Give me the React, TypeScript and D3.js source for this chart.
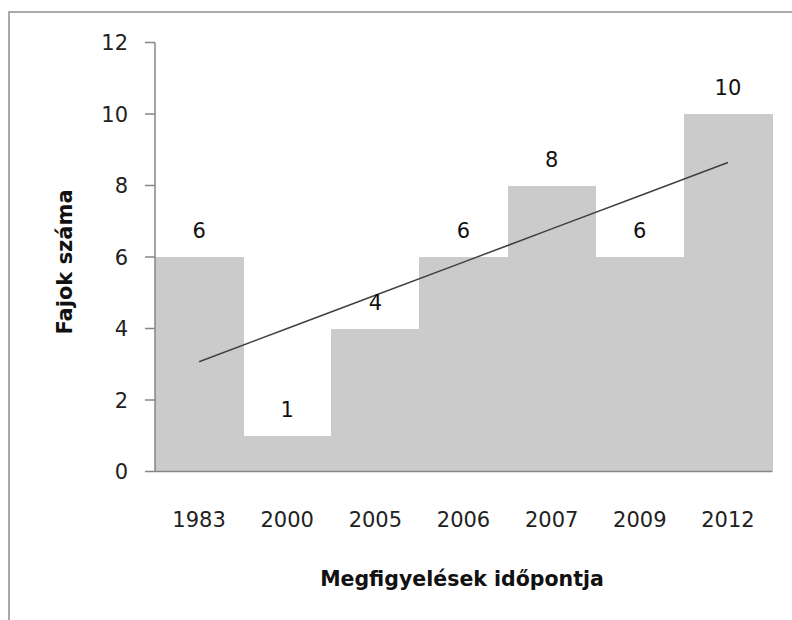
import React from "react";
import * as d3 from "d3";

const categories = ["1983", "2000", "2005", "2006", "2007", "2009", "2012"];
const values = [6, 1, 4, 6, 8, 6, 10];
const yTicks = [0, 2, 4, 6, 8, 10, 12];
const xTitle = "Megfigyelések időpontja";
const yTitle = "Fajok száma";

export default function App() {
  const W = 792, H = 620;
  const left = 155, right = 772, top = 42.5, bottom = 471.5;
  const x = d3.scaleBand<string>().domain(categories).range([left, right]).padding(0);
  const y = d3.scaleLinear().domain([0, 12]).range([bottom, top]);

  // linear trendline (least squares) over category index
  const n = values.length;
  const xs = values.map((_, i) => i + 1);
  const mx = d3.mean(xs)!;
  const my = d3.mean(values)!;
  const slope = d3.sum(xs.map((xi, i) => (xi - mx) * (values[i] - my))) / d3.sum(xs.map((xi) => (xi - mx) ** 2));
  const intercept = my - slope * mx;
  const cx = (i: number) => x(categories[i])! + x.bandwidth() / 2;
  const trend = d3.line<number>().x((i) => cx(i)).y((i) => y(intercept + slope * (i + 1)));

  const font = "'DejaVu Sans', sans-serif";
  return (
    <svg width={W} height={H} style={{ position: "absolute", left: 0, top: 0, background: "#fff" }}>
      <rect x={9} y={12} width={W + 20} height={H + 20} fill="#fff" stroke="#a0a0a0" strokeWidth={1.8} />
      {categories.map((c, i) => (
        <rect key={c} x={x(c)!} y={y(values[i])} width={x.bandwidth() + 0.6} height={bottom - y(values[i])} fill="#cbcbcb" shapeRendering="crispEdges" />
      ))}
      {/* y axis */}
      <line x1={left} x2={left} y1={top} y2={bottom} stroke="#868686" strokeWidth={1.5} />
      {yTicks.map((t) => (
        <g key={t}>
          <line x1={left - 10} x2={left} y1={y(t)} y2={y(t)} stroke="#868686" strokeWidth={1.5} />
          <text x={128} y={y(t)} dy="0.36em" textAnchor="end" fontFamily={font} fontSize={21} fill="#222">{t}</text>
        </g>
      ))}
      {/* x axis */}
      <line x1={left} x2={right} y1={bottom} y2={bottom} stroke="#868686" strokeWidth={1.5} />
      {categories.map((c) => (
        <text key={c} x={x(c)! + x.bandwidth() / 2} y={527} textAnchor="middle" fontFamily={font} fontSize={21} fill="#222">{c}</text>
      ))}
      {/* trendline */}
      <path d={trend(d3.range(n))!} fill="none" stroke="#404040" strokeWidth={1.5} />
      {/* data labels */}
      {categories.map((c, i) => (
        <text key={c} x={cx(i)} y={y(values[i]) - 19} textAnchor="middle" fontFamily={font} fontSize={21} fill="#111">{values[i]}</text>
      ))}
      <text x={462} y={586} textAnchor="middle" fontFamily={font} fontWeight="bold" fontSize={20.5} fill="#111">{xTitle}</text>
      <text transform={`translate(72,262) rotate(-90)`} textAnchor="middle" fontFamily={font} fontWeight="bold" fontSize={21} fill="#111">{yTitle}</text>
    </svg>
  );
}
